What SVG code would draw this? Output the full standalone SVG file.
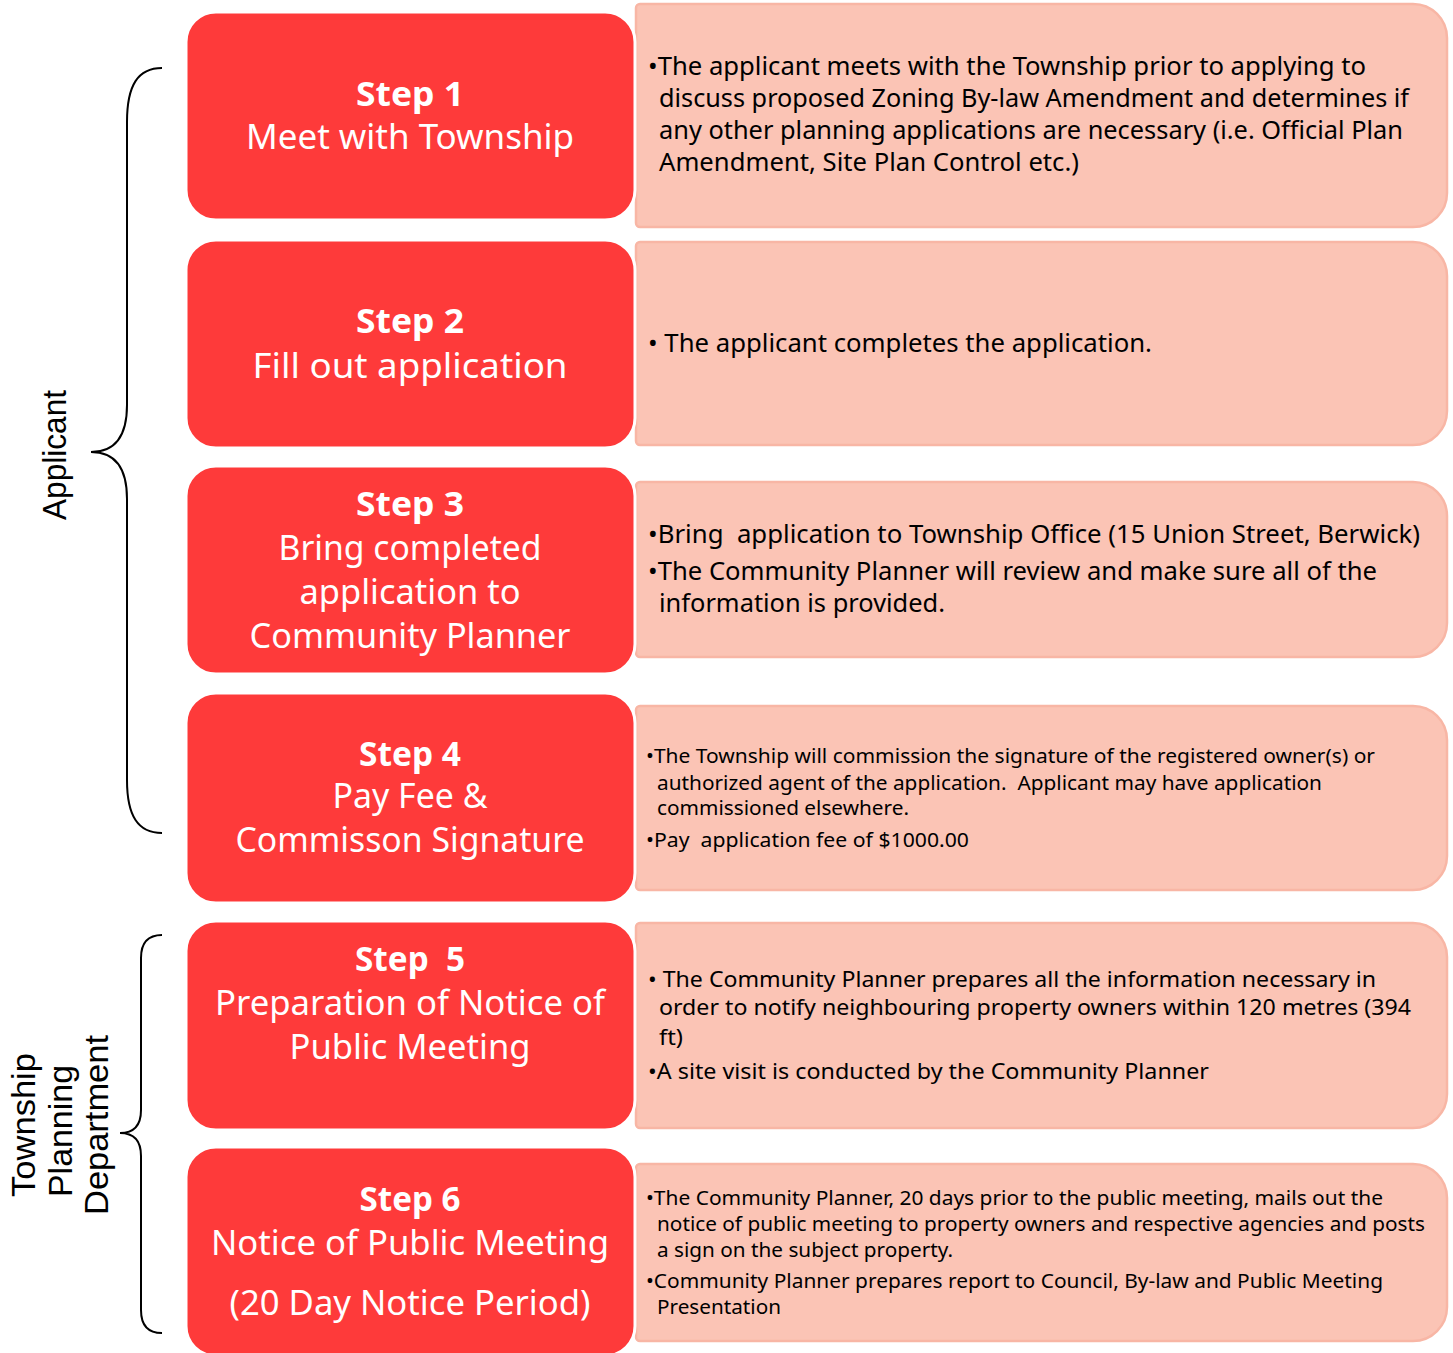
<svg xmlns="http://www.w3.org/2000/svg" width="1453" height="1353" viewBox="0 0 1453 1353">
<style>
.step{fill:#FE3A3A;stroke:#FFFFFF;stroke-width:3}
.info{fill:#FBC4B5;stroke:#F8B6A5;stroke-width:2.5}
.st{font-family:"Noto Sans","Open Sans",sans-serif;fill:#FFFFFF;font-size:34px;text-anchor:middle}
.stb{font-weight:bold}
.tx{font-family:"Noto Sans","Open Sans",sans-serif;fill:#000000}
.t25{font-size:25px}
.t23{font-size:22px}
.t21{font-size:20px}
.side{font-family:"Liberation Sans",Arial,sans-serif;fill:#000000;text-anchor:middle}
.brace{fill:none;stroke:#000000;stroke-width:2}
</style>
<rect width="1453" height="1353" fill="#FFFFFF"/>

<g id="side-labels">
  <text class="side" font-size="33" transform="translate(66,455) rotate(-90)" textLength="130" lengthAdjust="spacingAndGlyphs">Applicant</text>
  <text class="side" font-size="34" transform="translate(35,1125) rotate(-90)" textLength="144" lengthAdjust="spacingAndGlyphs">Township</text>
  <text class="side" font-size="34" transform="translate(72,1131) rotate(-90)" textLength="132" lengthAdjust="spacingAndGlyphs">Planning</text>
  <text class="side" font-size="34" transform="translate(108,1125) rotate(-90)" textLength="180" lengthAdjust="spacingAndGlyphs">Department</text>
</g>

<g id="connectors">
  <path class="brace" d="M162,68 C138,68 127,85 127,122 L127,405 C127,436 115,452 91,452 C115,452 127,468 127,499 L127,780 C127,816 138,833 162,833"/>
  <path class="brace" d="M162,935 C148,935 141,942 141,958 L141,1110 C141,1125 134,1133 120,1133 C134,1133 141,1141 141,1156 L141,1310 C141,1326 148,1333 162,1333"/>
</g>

<g id="info1">
  <path class="info" d="M640,4 H1413 A34,34 0 0 1 1447,38 V193 A34,34 0 0 1 1413,227 H640 A4,4 0 0 1 636,223 V8 A4,4 0 0 1 640,4 Z"/>
  <text class="tx t25" x="648" y="75" textLength="718" lengthAdjust="spacingAndGlyphs">•The applicant meets with the Township prior to applying to</text>
  <text class="tx t25" x="659" y="107" textLength="750" lengthAdjust="spacingAndGlyphs">discuss proposed Zoning By-law Amendment and determines if</text>
  <text class="tx t25" x="659" y="139" textLength="744" lengthAdjust="spacingAndGlyphs">any other planning applications are necessary (i.e. Official Plan</text>
  <text class="tx t25" x="659" y="171" textLength="420" lengthAdjust="spacingAndGlyphs">Amendment, Site Plan Control etc.)</text>
</g>

<g id="info2">
  <path class="info" d="M640,242 H1413 A34,34 0 0 1 1447,276 V411 A34,34 0 0 1 1413,445 H640 A4,4 0 0 1 636,441 V246 A4,4 0 0 1 640,242 Z"/>
  <text class="tx t25" x="648" y="352" textLength="504" lengthAdjust="spacingAndGlyphs">• The applicant completes the application.</text>
</g>

<g id="info3">
  <path class="info" d="M640,482 H1413 A34,34 0 0 1 1447,516 V623 A34,34 0 0 1 1413,657 H640 A4,4 0 0 1 636,653 V486 A4,4 0 0 1 640,482 Z"/>
  <text class="tx t25" x="648" y="543" textLength="772" lengthAdjust="spacingAndGlyphs" xml:space="preserve">•Bring  application to Township Office (15 Union Street, Berwick)</text>
  <text class="tx t25" x="648" y="580" textLength="729" lengthAdjust="spacingAndGlyphs">•The Community Planner will review and make sure all of the</text>
  <text class="tx t25" x="659" y="612" textLength="286" lengthAdjust="spacingAndGlyphs">information is provided.</text>
</g>

<g id="info4">
  <path class="info" d="M640,706 H1413 A34,34 0 0 1 1447,740 V856 A34,34 0 0 1 1413,890 H640 A4,4 0 0 1 636,886 V710 A4,4 0 0 1 640,706 Z"/>
  <text class="tx t21" x="646" y="763" textLength="729" lengthAdjust="spacingAndGlyphs">•The Township will commission the signature of the registered owner(s) or</text>
  <text class="tx t21" x="657" y="790" textLength="665" lengthAdjust="spacingAndGlyphs" xml:space="preserve">authorized agent of the application.  Applicant may have application</text>
  <text class="tx t21" x="657" y="815" textLength="252" lengthAdjust="spacingAndGlyphs">commissioned elsewhere.</text>
  <text class="tx t21" x="646" y="847" textLength="323" lengthAdjust="spacingAndGlyphs" xml:space="preserve">•Pay  application fee of $1000.00</text>
</g>

<g id="info5">
  <path class="info" d="M640,923 H1413 A34,34 0 0 1 1447,957 V1094 A34,34 0 0 1 1413,1128 H640 A4,4 0 0 1 636,1124 V927 A4,4 0 0 1 640,923 Z"/>
  <text class="tx t23" x="648" y="987" textLength="728" lengthAdjust="spacingAndGlyphs">• The Community Planner prepares all the information necessary in</text>
  <text class="tx t23" x="659" y="1015" textLength="752" lengthAdjust="spacingAndGlyphs">order to notify neighbouring property owners within 120 metres (394</text>
  <text class="tx t23" x="659" y="1045" textLength="24" lengthAdjust="spacingAndGlyphs">ft)</text>
  <text class="tx t23" x="648" y="1079" textLength="561" lengthAdjust="spacingAndGlyphs">•A site visit is conducted by the Community Planner</text>
</g>

<g id="info6">
  <path class="info" d="M640,1164 H1413 A34,34 0 0 1 1447,1198 V1307 A34,34 0 0 1 1413,1341 H640 A4,4 0 0 1 636,1337 V1168 A4,4 0 0 1 640,1164 Z"/>
  <text class="tx t21" x="646" y="1205" textLength="737" lengthAdjust="spacingAndGlyphs">•The Community Planner, 20 days prior to the public meeting, mails out the</text>
  <text class="tx t21" x="657" y="1231" textLength="768" lengthAdjust="spacingAndGlyphs">notice of public meeting to property owners and respective agencies and posts</text>
  <text class="tx t21" x="657" y="1257" textLength="296" lengthAdjust="spacingAndGlyphs">a sign on the subject property.</text>
  <text class="tx t21" x="646" y="1288" textLength="737" lengthAdjust="spacingAndGlyphs">•Community Planner prepares report to Council, By-law and Public Meeting</text>
  <text class="tx t21" x="657" y="1314" textLength="124" lengthAdjust="spacingAndGlyphs">Presentation</text>
</g>

<g id="step1">
  <rect class="step" x="186" y="12" width="449" height="208" rx="30"/>
  <text class="st stb" x="410" y="106" textLength="108" lengthAdjust="spacingAndGlyphs">Step 1</text>
  <text class="st" x="410" y="149" textLength="328" lengthAdjust="spacingAndGlyphs">Meet with Township</text>
</g>

<g id="step2">
  <rect class="step" x="186" y="240" width="449" height="208" rx="30"/>
  <text class="st stb" x="410" y="333" textLength="108" lengthAdjust="spacingAndGlyphs">Step 2</text>
  <text class="st" x="410" y="378" textLength="315" lengthAdjust="spacingAndGlyphs">Fill out application</text>
</g>

<g id="step3">
  <rect class="step" x="186" y="466" width="449" height="208" rx="30"/>
  <text class="st stb" x="410" y="516" textLength="108" lengthAdjust="spacingAndGlyphs">Step 3</text>
  <text class="st" x="410" y="560" textLength="263" lengthAdjust="spacingAndGlyphs">Bring completed</text>
  <text class="st" x="410" y="604" textLength="221" lengthAdjust="spacingAndGlyphs">application to</text>
  <text class="st" x="410" y="648" textLength="321" lengthAdjust="spacingAndGlyphs">Community Planner</text>
</g>

<g id="step4">
  <rect class="step" x="186" y="693" width="449" height="210" rx="30"/>
  <text class="st stb" x="410" y="766" textLength="102" lengthAdjust="spacingAndGlyphs">Step 4</text>
  <text class="st" x="410" y="808" textLength="155" lengthAdjust="spacingAndGlyphs">Pay Fee &amp;</text>
  <text class="st" x="410" y="852" textLength="349" lengthAdjust="spacingAndGlyphs">Commisson Signature</text>
</g>

<g id="step5">
  <rect class="step" x="186" y="921" width="449" height="209" rx="30"/>
  <text class="st stb" x="410" y="971" textLength="110" lengthAdjust="spacingAndGlyphs" xml:space="preserve">Step  5</text>
  <text class="st" x="410" y="1015" textLength="390" lengthAdjust="spacingAndGlyphs">Preparation of Notice of</text>
  <text class="st" x="410" y="1059" textLength="241" lengthAdjust="spacingAndGlyphs">Public Meeting</text>
</g>

<g id="step6">
  <rect class="step" x="186" y="1147" width="449" height="209" rx="30"/>
  <text class="st stb" x="410" y="1211" textLength="101" lengthAdjust="spacingAndGlyphs">Step 6</text>
  <text class="st" x="410" y="1255" textLength="398" lengthAdjust="spacingAndGlyphs">Notice of Public Meeting</text>
  <text class="st" x="410" y="1315" textLength="361" lengthAdjust="spacingAndGlyphs">(20 Day Notice Period)</text>
</g>
</svg>
